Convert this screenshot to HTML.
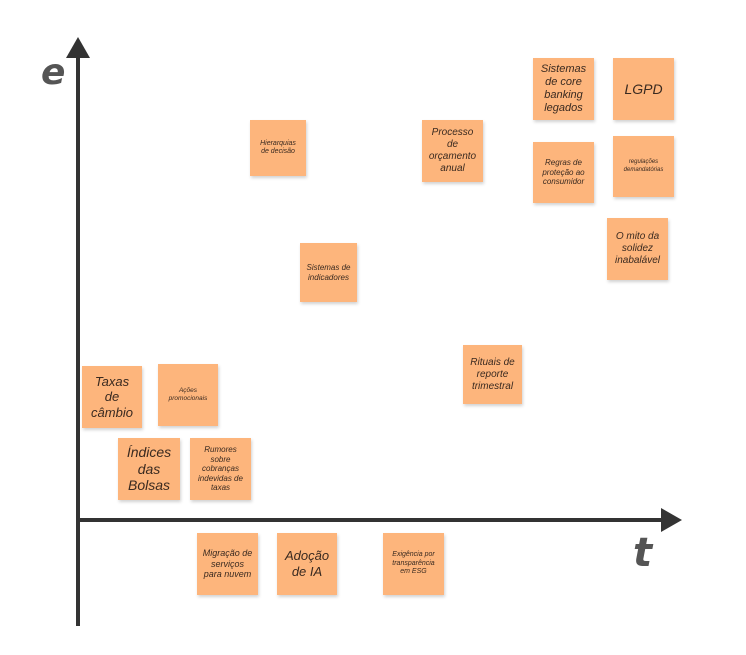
<!DOCTYPE html>
<html><head><meta charset="utf-8"><style>
body{margin:0;width:746px;height:655px;background:#fff;position:relative;overflow:hidden;font-family:"Liberation Sans",sans-serif}
.n{position:absolute;box-sizing:border-box;padding:0 7px;background:#fdb57c;box-shadow:1px 2px 3px rgba(0,0,0,0.18);display:flex;align-items:center;justify-content:center;text-align:center;color:#3a2a20;font-style:italic;line-height:1.2}
.ax{position:absolute;font-weight:bold;font-style:italic;color:#555;font-family:"DejaVu Sans",sans-serif}
</style></head><body>
<svg width="746" height="655" style="position:absolute;left:0;top:0">
<line x1="78" y1="55" x2="78" y2="626" stroke="#333" stroke-width="4"/>
<polygon points="78,37 66,58 90,58" fill="#333"/>
<line x1="78" y1="520" x2="664" y2="520" stroke="#333" stroke-width="4"/>
<polygon points="682,520 661,508 661,532" fill="#333"/>
</svg>
<div class="ax" style="left:41px;top:52px;font-size:36px">e</div>
<div class="ax" style="left:633px;top:530px;font-size:40px">t</div>

<div class="n" style="left:533px;top:58px;width:61px;height:62px;font-size:11px">Sistemas de core banking legados</div>
<div class="n" style="left:613px;top:58px;width:61px;height:62px;font-size:14px">LGPD</div>
<div class="n" style="left:250px;top:120px;width:56px;height:56px;font-size:7px">Hierarquias de decisão</div>
<div class="n" style="left:422px;top:120px;width:61px;height:62px;font-size:10px">Processo de orçamento anual</div>
<div class="n" style="left:533px;top:142px;width:61px;height:61px;font-size:8px;padding:0 3px">Regras de proteção ao consumidor</div>
<div class="n" style="left:613px;top:136px;width:61px;height:61px;font-size:6px">regulações demandatórias</div>
<div class="n" style="left:607px;top:218px;width:61px;height:62px;font-size:10px">O mito da solidez inabalável</div>
<div class="n" style="left:300px;top:243px;width:57px;height:59px;font-size:8px;padding:0 3px">Sistemas de indicadores</div>
<div class="n" style="left:463px;top:345px;width:59px;height:59px;font-size:10px;padding:0 3px">Rituais de reporte trimestral</div>
<div class="n" style="left:82px;top:366px;width:60px;height:62px;font-size:13px">Taxas de câmbio</div>
<div class="n" style="left:158px;top:364px;width:60px;height:62px;font-size:6.5px">Ações promocionais</div>
<div class="n" style="left:118px;top:438px;width:62px;height:62px;font-size:14px">Índices das Bolsas</div>
<div class="n" style="left:190px;top:438px;width:61px;height:62px;font-size:8px">Rumores sobre cobranças indevidas de taxas</div>
<div class="n" style="left:197px;top:533px;width:61px;height:62px;font-size:9px;padding:0 4px">Migração de serviços para nuvem</div>
<div class="n" style="left:277px;top:533px;width:60px;height:62px;font-size:13px">Adoção de IA</div>
<div class="n" style="left:383px;top:533px;width:61px;height:62px;font-size:7px;padding:0 4px">Exigência por transparência em ESG</div>
</body></html>
